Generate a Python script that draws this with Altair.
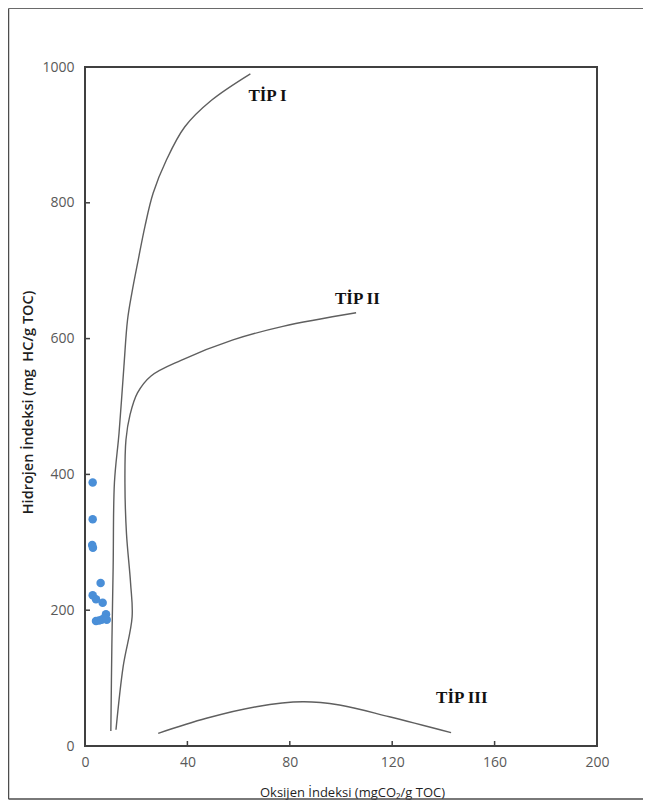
import altair as alt
import pandas as pd

# --- data ---
sample_oi = [3.0, 3.0, 2.8, 3.1, 6.1, 3.0, 4.3, 6.9, 8.2, 4.3, 5.5, 6.5, 7.5, 8.5]
sample_hi = [388, 334, 296, 292, 240, 222, 216, 211, 194, 184, 185, 186, 188, 186]

tip1_oi = [10.1, 10.5, 11.0, 11.5, 13.3, 15.2, 16.6, 18.3, 20.8, 23.4, 26.6, 31.8, 39.0, 49.4, 64.6]
tip1_hi = [22, 150, 264, 388, 461, 559, 627, 667, 716, 765, 814, 863, 912, 951, 990]

tip2_oi = [12.1, 14.9, 18.4, 17.8, 16.2, 15.6, 16.0, 17.6, 20.5, 25.8, 37.5, 57.8, 77.3, 105.9]
tip2_hi = [24, 117, 190, 240, 313, 387, 451, 488, 520, 545, 568, 598, 618, 638]

tip3_oi = [28.6, 47.4, 66.9, 85.1, 99.4, 118.9, 143.0]
tip3_hi = [18.7, 40.8, 57.9, 65.2, 60.4, 43.0, 19.6]

label_text = ["TİP I", "TİP II", "TİP III"]
label_oi = [71.3, 106.4, 147.2]
label_hi = [950, 651, 64]

x_ticks = [0, 40, 80, 120, 160, 200]
y_ticks = [0, 200, 400, 600, 800, 1000]
x_inner_ticks = [40, 80, 120, 160]
y_inner_ticks = [200, 400, 600, 800]

x_title = "Oksijen İndeksi (mgCO₂/g TOC)"
y_title = "Hidrojen İndeksi (mg\u00a0 HC/g TOC)"

W, H = 512, 679
PL, PT, PR, PB = 77, 59, 46, 54

# --- tables ---
curves = pd.concat([
    pd.DataFrame({"oi": tip1_oi, "hi": tip1_hi, "curve": "I", "idx": range(len(tip1_oi))}),
    pd.DataFrame({"oi": tip2_oi, "hi": tip2_hi, "curve": "II", "idx": range(len(tip2_oi))}),
    pd.DataFrame({"oi": tip3_oi, "hi": tip3_hi, "curve": "III", "idx": range(len(tip3_oi))}),
], ignore_index=True)
samples = pd.DataFrame({"oi": sample_oi, "hi": sample_hi})
labels = pd.DataFrame({"oi": label_oi, "hi": label_hi, "t": label_text})

xscale = alt.Scale(domain=[0, 200], nice=False, zero=False)
yscale = alt.Scale(domain=[0, 1000], nice=False, zero=False)

x_axis = alt.Axis(
    values=x_ticks, format="d", title=x_title, grid=False, domain=False,
    ticks=False, tickSize=0, labelPadding=9, labelFlush=False, labelOverlap=False,
    labelFont="Open Sans", labelFontSize=14, labelColor="#595959",
    titleFont="Open Sans", titleFontSize=13, titleFontWeight="normal", titleColor="#1f1f1f",
    titleX=267, titleY=46, titleAlign="center", titleBaseline="middle",
)
y_axis = alt.Axis(
    values=y_ticks, format="d", title=y_title, grid=False, domain=False,
    ticks=False, tickSize=0, labelPadding=11, labelFlush=False, labelOverlap=False,
    labelFont="Open Sans", labelFontSize=14, labelColor="#595959",
    titleFont="Open Sans", titleFontSize=14.5, titleFontWeight=600, titleColor="#1f1f1f",
    titleX=-57, titleY=335, titleAngle=270, titleAlign="center", titleBaseline="middle",
)

X = lambda f: alt.X(f, scale=xscale, axis=x_axis)
Y = lambda f: alt.Y(f, scale=yscale, axis=y_axis)

lines = alt.Chart(curves).mark_line(
    color="#5f5f5f", strokeWidth=1.4, interpolate="catmull-rom"
).encode(x=X("oi:Q"), y=Y("hi:Q"), detail="curve:N", order="idx:Q")

points = alt.Chart(samples).mark_circle(size=72, color="#4a8fd8", opacity=1).encode(
    x=X("oi:Q"), y=Y("hi:Q")
)

texts = alt.Chart(labels).mark_text(
    font="Liberation Serif", fontWeight="bold", fontSize=17, color="#111111",
    align="center", baseline="alphabetic",
).encode(x=X("oi:Q"), y=Y("hi:Q"), text="t:N")

xt = alt.Chart(pd.DataFrame({"v": x_inner_ticks})).mark_rule(color="#404040", strokeWidth=1.5).encode(
    x=X("v:Q"), y=alt.value(H), y2=alt.value(H - 5)
)
yt = alt.Chart(pd.DataFrame({"v": y_inner_ticks})).mark_rule(color="#404040", strokeWidth=1.5).encode(
    y=Y("v:Q"), x=alt.value(0), x2=alt.value(5)
)

# outer chart-area border (left, top, bottom edges; right edge lies outside the picture)
one = pd.DataFrame({"a": [0]})
left_edge = -PL + 0.5
top_edge = -PT + 0.5
bottom_edge = H + PB - 1
right_edge = W + PR
border_left = alt.Chart(one).mark_rule(color="#4d4d4d", strokeWidth=1.5).encode(
    x=alt.value(left_edge), y=alt.value(top_edge), y2=alt.value(bottom_edge)
)
border_top = alt.Chart(one).mark_rule(color="#6a6a6a", strokeWidth=1.2).encode(
    x=alt.value(left_edge), x2=alt.value(right_edge), y=alt.value(top_edge)
)
border_bottom = alt.Chart(one).mark_rule(color="#4d4d4d", strokeWidth=1.5).encode(
    x=alt.value(left_edge), x2=alt.value(right_edge), y=alt.value(bottom_edge)
)

chart = alt.layer(
    border_left, border_top, border_bottom, lines, xt, yt, points, texts
).properties(
    width=W, height=H,
    padding={"left": PL, "top": PT, "right": PR, "bottom": PB},
    autosize=alt.AutoSizeParams(type="none"),
    background="white",
).configure_view(stroke="#404040", strokeWidth=2)

chart.save("out.html", embed_options={"renderer": "svg", "actions": False})
